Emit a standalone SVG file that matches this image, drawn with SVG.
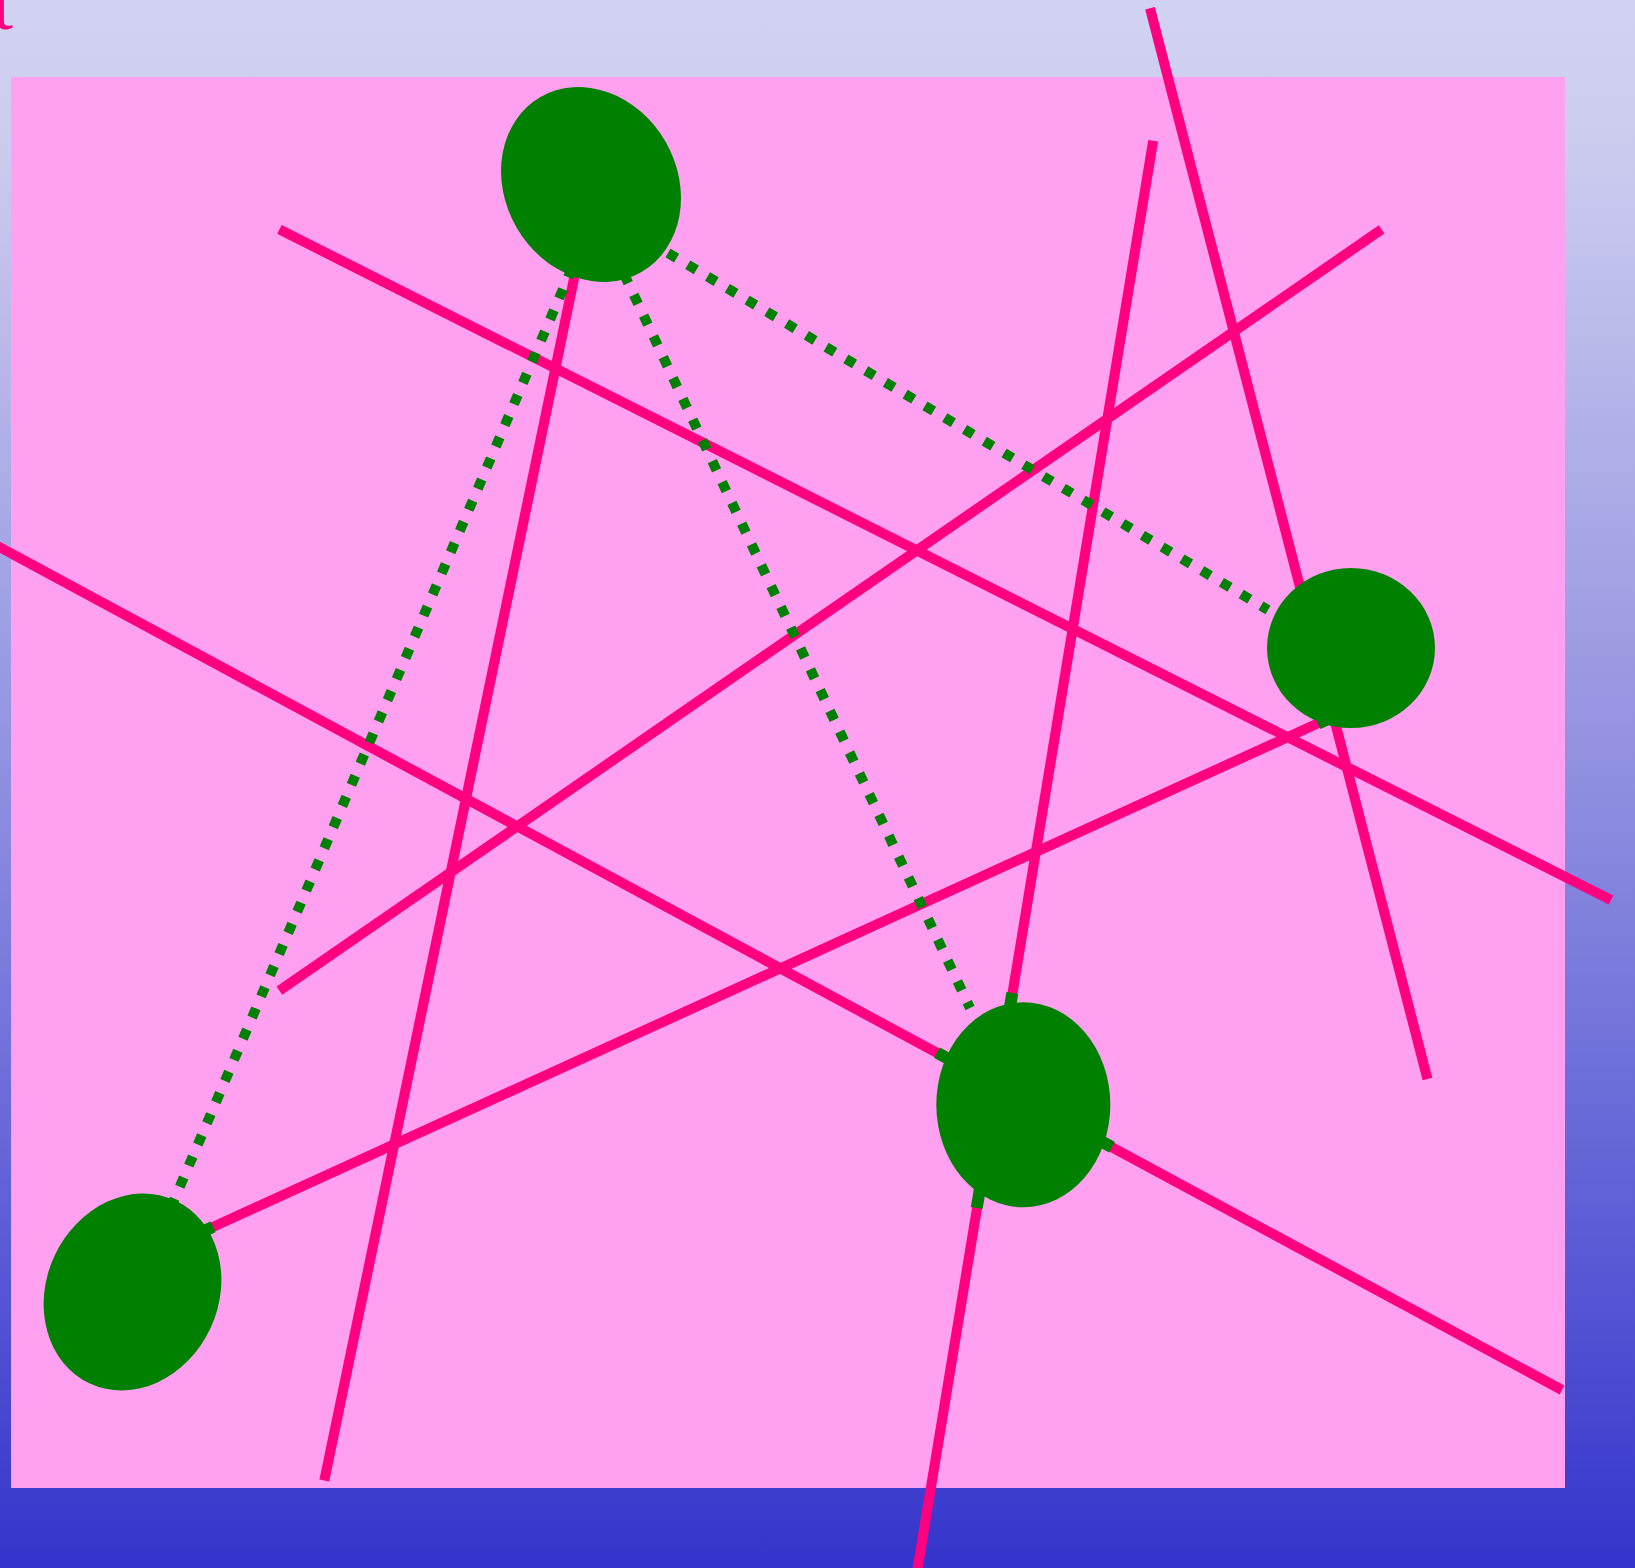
<svg xmlns="http://www.w3.org/2000/svg" width="1635" height="1568" viewBox="0 0 1635 1568">
  <defs>
    <linearGradient id="bg" x1="0" y1="0" x2="0" y2="1">
      <stop offset="0" stop-color="#d2d2f2"/>
      <stop offset="0.1" stop-color="#cbcbef"/>
      <stop offset="0.5" stop-color="#8f8fe0"/>
      <stop offset="0.8" stop-color="#5a5ad6"/>
      <stop offset="1" stop-color="#3434cb"/>
    </linearGradient>
    <style>
      .edge { stroke: #ff0080; stroke-width: 10; stroke-linecap: butt; fill: none; }
      .dot { stroke: #008000; stroke-width: 10; stroke-dasharray: 10 13; fill: none; }
      .stub { stroke: #008000; stroke-width: 12; stroke-linecap: butt; }
      .node { fill: #008000; }
      .title { font-family: "Liberation Serif", serif; font-size: 72px; fill: #ff0080; }
    </style>
  </defs>
  <rect x="0" y="0" width="1635" height="1568" fill="url(#bg)"/>
  <rect x="11" y="77" width="1554" height="1411" fill="#ffa0f0"/>
  <text class="title" x="-7" y="29">t</text>
  <g id="connectors">
    <line class="edge" x1="279.4" y1="229.4" x2="1611" y2="900"/>
    <line class="edge" x1="-5" y1="544.7" x2="1562" y2="1390"/>
    <line class="edge" x1="279.4" y1="990.6" x2="1381.6" y2="229.4"/>
    <line class="edge" x1="1150" y1="8.3" x2="1427.5" y2="1079"/>
    <line class="edge" x1="1153.2" y1="140.8" x2="915" y2="1584"/>
    <line class="edge" x1="574.5" y1="276.3" x2="324.3" y2="1480.6"/>
    <line class="edge" x1="208.5" y1="1229" x2="1326.3" y2="719.5"/>
    <line class="dot" x1="572" y1="268" x2="172" y2="1205"/>
    <line class="dot" x1="624" y1="274" x2="970" y2="1008"/>
    <line class="dot" x1="668" y1="253" x2="1268" y2="610"/>
    <line class="stub" x1="1012.3" y1="993" x2="1009.5" y2="1010"/>
    <line class="stub" x1="980.1" y1="1188" x2="976.7" y2="1208"/>
    <line class="stub" x1="937" y1="1052.7" x2="952" y2="1060.8"/>
    <line class="stub" x1="1098" y1="1139.6" x2="1112" y2="1147.1"/>
    <line class="stub" x1="204" y1="1231" x2="213" y2="1226.9"/>
    <line class="stub" x1="1318" y1="723.6" x2="1327" y2="719.5"/>
  </g>
  <g id="node-top">
    <ellipse class="node" cx="591" cy="184.5" rx="86" ry="101" transform="rotate(-30 591 184.5)"/>
  </g>
  <g id="node-right">
    <ellipse class="node" cx="1351" cy="648" rx="84" ry="80"/>
  </g>
  <g id="node-bottom">
    <ellipse class="node" cx="1023.3" cy="1104.8" rx="87" ry="102.5"/>
  </g>
  <g id="node-left">
    <ellipse class="node" cx="132.5" cy="1292" rx="86" ry="101" transform="rotate(25 132.5 1292)"/>
  </g>
</svg>
